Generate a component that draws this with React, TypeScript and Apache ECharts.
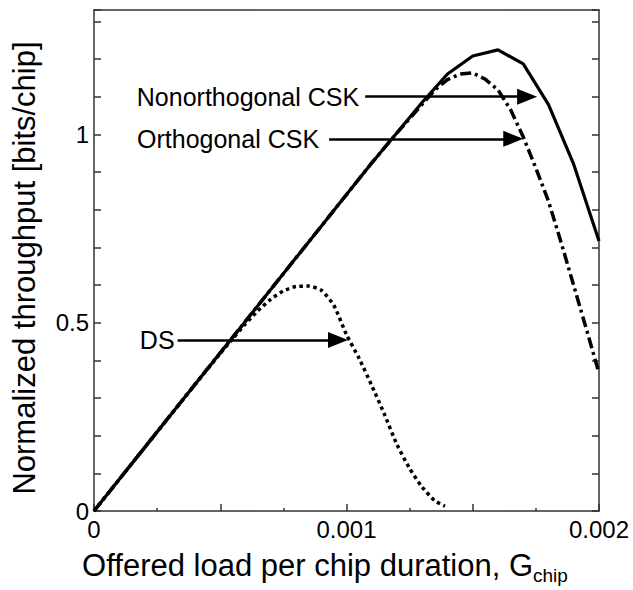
import React, { useEffect, useRef } from 'react';
import * as echarts from 'echarts';

const FONT = "'Liberation Sans', Arial, Helvetica, sans-serif";

// Nonorthogonal CSK (solid)
const nonOrthX = [0, 0.0001, 0.0002, 0.0003, 0.0004, 0.0005, 0.0006, 0.0007, 0.0008, 0.0009, 0.001, 0.0011, 0.0012, 0.0013, 0.0014, 0.0015, 0.0016, 0.0017, 0.0018, 0.0019, 0.002];
const nonOrthY = [0, 0.084, 0.168, 0.252, 0.336, 0.42, 0.504, 0.588, 0.672, 0.756, 0.84, 0.924, 1.004, 1.085, 1.16, 1.208, 1.224, 1.187, 1.079, 0.92, 0.717];

// Orthogonal CSK (dash-dot)
const orthX = [0, 0.0001, 0.0002, 0.0003, 0.0004, 0.0005, 0.0006, 0.0007, 0.0008, 0.0009, 0.001, 0.0011, 0.0012, 0.0013, 0.00135, 0.0014, 0.00145, 0.0015, 0.00155, 0.0016, 0.00165, 0.0017, 0.00175, 0.0018, 0.00185, 0.0019, 0.00195, 0.002];
const orthY = [0, 0.084, 0.168, 0.252, 0.336, 0.42, 0.504, 0.588, 0.672, 0.756, 0.84, 0.924, 1.004, 1.08, 1.118, 1.145, 1.16, 1.163, 1.146, 1.118, 1.065, 0.993, 0.91, 0.822, 0.713, 0.598, 0.483, 0.366];

// DS (dotted)
const dsX = [0, 0.0001, 0.0002, 0.0003, 0.0004, 0.0005, 0.00055, 0.0006, 0.00065, 0.0007, 0.00075, 0.0008, 0.00085, 0.0009, 0.00095, 0.001, 0.00105, 0.0011, 0.00115, 0.0012, 0.00125, 0.0013, 0.00135, 0.00139];
const dsY = [0, 0.084, 0.168, 0.252, 0.336, 0.418, 0.458, 0.497, 0.532, 0.562, 0.584, 0.596, 0.597, 0.586, 0.546, 0.468, 0.405, 0.333, 0.257, 0.176, 0.113, 0.063, 0.027, 0.013];

// Annotation arrows
const arrowLabels = ['Nonorthogonal CSK', 'Orthogonal CSK', 'DS'];
const arrowStartX = [0.001074, 0.000931, 0.000331];
const arrowTipX = [0.001755, 0.0017, 0.001006];
const arrowY = [1.1, 0.988, 0.454];
const arrowLabelGap = [6, 10, 3];

// Axis
const xMin = 0;
const xMax = 0.002;
const xInterval = 0.0005;
const yMin = 0;
const yMax = 1.33;
const yInterval = 0.1;

// layout
const GRID = { left: 94, right: 34, top: 10, bottom: 77 };
const CHART_W = 633;
const CHART_H = 590;
const ARROW_LEN = 20;
const ARROW_W = 16;

const zip = (xs: number[], ys: number[]) => xs.map((x, i) => [x, ys[i]]);

function arrowMarkLine(i: number) {
  // the arrow symbol is centred on the end point; pull the end back half its length so the tip sits on the value
  const plotW = CHART_W - GRID.left - GRID.right;
  const halfLenData = (ARROW_LEN / 2 / plotW) * (xMax - xMin);
  return {
    silent: true,
    symbol: ['none', 'triangle'],
    symbolSize: [ARROW_W, ARROW_LEN],
    lineStyle: { color: '#000', width: 2.5, type: 'solid' },
    itemStyle: { color: '#000' },
    emphasis: { disabled: true },
    label: {
      show: true,
      position: 'start',
      formatter: '{b}',
      fontSize: 25,
      fontFamily: FONT,
      color: '#000',
      distance: arrowLabelGap[i],
    },
    data: [[
      { name: arrowLabels[i], coord: [arrowStartX[i], arrowY[i]] },
      { coord: [arrowTipX[i] - halfLenData, arrowY[i]] },
    ]],
  };
}

export default function App() {
  const ref = useRef<HTMLDivElement>(null);
  useEffect(() => {
    if (!ref.current) return;
    const chart = echarts.init(ref.current, null, { renderer: 'svg' });
    const axisLine = { show: true, onZero: false, lineStyle: { color: '#333', width: 1.5 } };
    const tickStyle = { color: '#333', width: 1.5 };
    const option: any = {
      animation: false,
      backgroundColor: '#fff',
      grid: { ...GRID, containLabel: false },
      xAxis: [
        {
          type: 'value',
          min: xMin,
          max: xMax,
          interval: xInterval,
          position: 'bottom',
          axisLine,
          axisTick: { show: true, inside: true, length: 7, lineStyle: tickStyle },
          minorTick: { show: true, splitNumber: 2, length: 3, lineStyle: tickStyle },
          splitLine: { show: false },
          axisLabel: {
            show: true,
            margin: 6,
            fontSize: 24,
            fontFamily: FONT,
            color: '#000',
            formatter: (v: number) => {
              const k = v / 0.001;
              return Math.abs(k - Math.round(k)) < 1e-6 ? String(Math.round(k) / 1000) : '';
            },
          },
          name: '{a|Offered load per chip duration, G}{b|chip}',
          nameLocation: 'middle',
          nameGap: 34,
          nameTextStyle: {
            padding: [0, 43, 0, 0],
            rich: {
              a: { fontSize: 31, fontFamily: FONT, color: '#000', lineHeight: 40 },
              b: { fontSize: 19, fontFamily: FONT, color: '#000', lineHeight: 19, verticalAlign: 'bottom' },
            },
          },
        },
        {
          type: 'value',
          min: xMin,
          max: xMax,
          interval: xInterval,
          position: 'top',
          axisLine,
          axisTick: { show: false },
          axisLabel: { show: false },
          splitLine: { show: false },
        },
      ],
      yAxis: [
        {
          type: 'value',
          min: yMin,
          max: yMax,
          interval: yInterval,
          position: 'left',
          axisLine,
          axisTick: { show: true, inside: true, length: 7, lineStyle: tickStyle },
          splitLine: { show: false },
          axisLabel: {
            show: true,
            margin: 5,
            fontSize: 24,
            fontFamily: FONT,
            color: '#000',
            formatter: (v: number) => {
              const k = v * 2;
              if (v > 1.05) return '';
              return Math.abs(k - Math.round(k)) < 1e-6 ? String(Math.round(k) / 2) : '';
            },
          },
          name: 'Normalized throughput [bits/chip]',
          nameLocation: 'middle',
          nameRotate: 90,
          nameGap: 54,
          nameTextStyle: { fontSize: 31, fontFamily: FONT, color: '#000', padding: [0, 15, 0, 0] },
        },
        {
          type: 'value',
          min: yMin,
          max: yMax,
          interval: yInterval,
          position: 'right',
          axisLine,
          axisTick: { show: true, inside: true, length: 7, lineStyle: tickStyle },
          axisLabel: { show: false },
          splitLine: { show: false },
        },
      ],
      series: [
        {
          name: 'DS',
          type: 'line',
          data: zip(dsX, dsY),
          showSymbol: false,
          symbol: 'none',
          smooth: 0.2,
          lineStyle: { color: '#000', width: 3.5, type: [3.5, 3.5], cap: 'butt' },
          markLine: arrowMarkLine(2),
          z: 2,
        },
        {
          name: 'Orthogonal CSK',
          type: 'line',
          data: zip(orthX, orthY),
          showSymbol: false,
          symbol: 'none',
          lineStyle: { color: '#000', width: 3.5, type: [11, 4, 3, 4], cap: 'butt' },
          markLine: arrowMarkLine(1),
          z: 3,
        },
        {
          name: 'Nonorthogonal CSK',
          type: 'line',
          data: zip(nonOrthX, nonOrthY),
          showSymbol: false,
          symbol: 'none',
          lineStyle: { color: '#000', width: 3.2, type: 'solid' },
          markLine: arrowMarkLine(0),
          z: 4,
        },
      ],
    };
    chart.setOption(option);
    return () => chart.dispose();
  }, []);
  return (
    <div
      ref={ref}
      style={{ position: 'absolute', left: 0, top: 0, width: CHART_W, height: CHART_H, background: '#fff' }}
    />
  );
}
